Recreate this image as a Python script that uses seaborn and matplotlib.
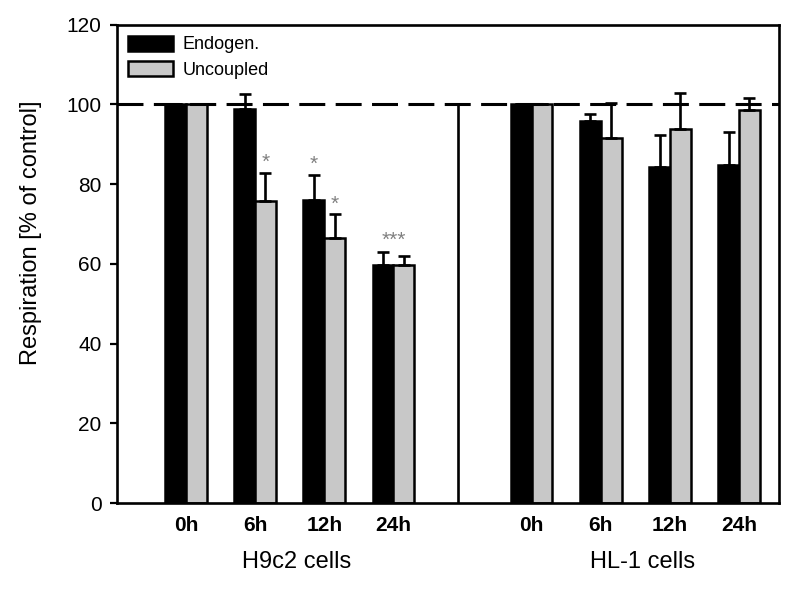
import numpy as np
import pandas as pd
import matplotlib
matplotlib.use("Agg")
import matplotlib.pyplot as plt
import seaborn as sns

# values (% of control)
times = ["0h", "6h", "12h", "24h"]
groups = ["H9c2 cells", "HL-1 cells"]
conditions = ["Endogen.", "Uncoupled"]

h9c2_endo = [100, 98.8, 76.0, 59.7]
h9c2_endo_err = [0, 3.8, 6.4, 3.2]
h9c2_unc = [100, 75.8, 66.4, 59.6]
h9c2_unc_err = [0, 7.0, 6.0, 2.4]

hl1_endo = [100, 95.8, 84.3, 84.9]
hl1_endo_err = [0, 1.8, 8.0, 8.3]
hl1_unc = [100, 91.6, 93.8, 98.5]
hl1_unc_err = [0, 8.8, 9.0, 3.2]

# significance marks (H9c2 only)
h9c2_endo_sig = ["", "", "*", ""]
h9c2_unc_sig = ["", "*", "*", ""]
h9c2_pair_sig = ["", "", "", "***"]

sns.set_style("ticks")
plt.rcParams["font.family"] = ["Liberation Sans", "DejaVu Sans"]
plt.rcParams["text.color"] = "black"
plt.rcParams["axes.labelcolor"] = "black"
plt.rcParams["xtick.color"] = "black"
plt.rcParams["ytick.color"] = "black"

rows = []
for g, endo, ee, unc, ue in [(groups[0], h9c2_endo, h9c2_endo_err, h9c2_unc, h9c2_unc_err),
                             (groups[1], hl1_endo, hl1_endo_err, hl1_unc, hl1_unc_err)]:
    for i, t in enumerate(times):
        rows.append({"slot": g + " " + t, "condition": conditions[0], "value": endo[i], "err": ee[i]})
        rows.append({"slot": g + " " + t, "condition": conditions[1], "value": unc[i], "err": ue[i]})
df = pd.DataFrame(rows)

order = [groups[0] + " " + t for t in times] + ["gap"] + [groups[1] + " " + t for t in times]
tick_labels = times + [""] + times

width = 0.6
fig = plt.figure(figsize=(8, 5.89), dpi=100)
ax = fig.add_axes([0.146, 0.146, 0.828, 0.812])

sns.barplot(data=df, x="slot", y="value", hue="condition", order=order,
            hue_order=conditions, palette=["black", "#c8c8c8"], saturation=1,
            edgecolor="black", linewidth=1.8, width=width, errorbar=None, ax=ax)

# one-sided error bars
xs = [order.index(s) + (-width / 4 if c == conditions[0] else width / 4)
      for s, c in zip(df["slot"], df["condition"])]
ax.errorbar(xs, df["value"], yerr=[np.zeros(len(df)), df["err"]], fmt="none",
            ecolor="black", elinewidth=1.9, capsize=4, capthick=1.9, zorder=3)

# significance stars
star_kw = dict(ha="center", va="center", fontsize=15, color="#808080")
for i, t in enumerate(times):
    slot = order.index(groups[0] + " " + t)
    if h9c2_endo_sig[i]:
        ax.text(slot - width / 4, h9c2_endo[i] + h9c2_endo_err[i] + 2.6, h9c2_endo_sig[i], **star_kw)
    if h9c2_unc_sig[i]:
        ax.text(slot + width / 4, h9c2_unc[i] + h9c2_unc_err[i] + 2.6, h9c2_unc_sig[i], **star_kw)
    if h9c2_pair_sig[i]:
        top = max(h9c2_endo[i] + h9c2_endo_err[i], h9c2_unc[i] + h9c2_unc_err[i])
        ax.text(slot, top + 3.0, h9c2_pair_sig[i], **star_kw)

# control line and group divider
ax.axhline(100, color="black", lw=2.2, ls=(0, (8.5, 3.4)), zorder=1)
ax.plot([3.93, 3.93], [0, 100], color="black", lw=1.9, zorder=1)

ax.set_xlim(-1.0, 8.58)
ax.set_ylim(0, 120)
ax.set_yticks(np.arange(0, 121, 20))
ax.set_xticks(range(len(order)))
ax.set_xticklabels(tick_labels, fontsize=15, fontweight="bold")
ax.tick_params(axis="x", length=0, pad=9)
ax.tick_params(axis="y", length=5, width=1.6, labelsize=15, pad=6)
ax.set_xlabel("")
ax.set_ylabel("Respiration [% of control]", fontsize=17)
ax.yaxis.set_label_coords(-0.113, 0.565)

for sp in ax.spines.values():
    sp.set_visible(True)
    sp.set_linewidth(1.9)
    sp.set_color("black")

for j, g in enumerate(groups):
    center = np.mean([order.index(g + " " + t) for t in times])
    ax.text(center + 0.1, -0.123, g, transform=ax.get_xaxis_transform(),
            ha="center", va="center", fontsize=17)

ax.legend(loc="upper left", frameon=False, fontsize=13, handlelength=2.5,
          handleheight=0.9, handletextpad=0.55, labelspacing=0.45,
          borderpad=0.2, borderaxespad=0.4)

fig.savefig("out.png", dpi=100)
